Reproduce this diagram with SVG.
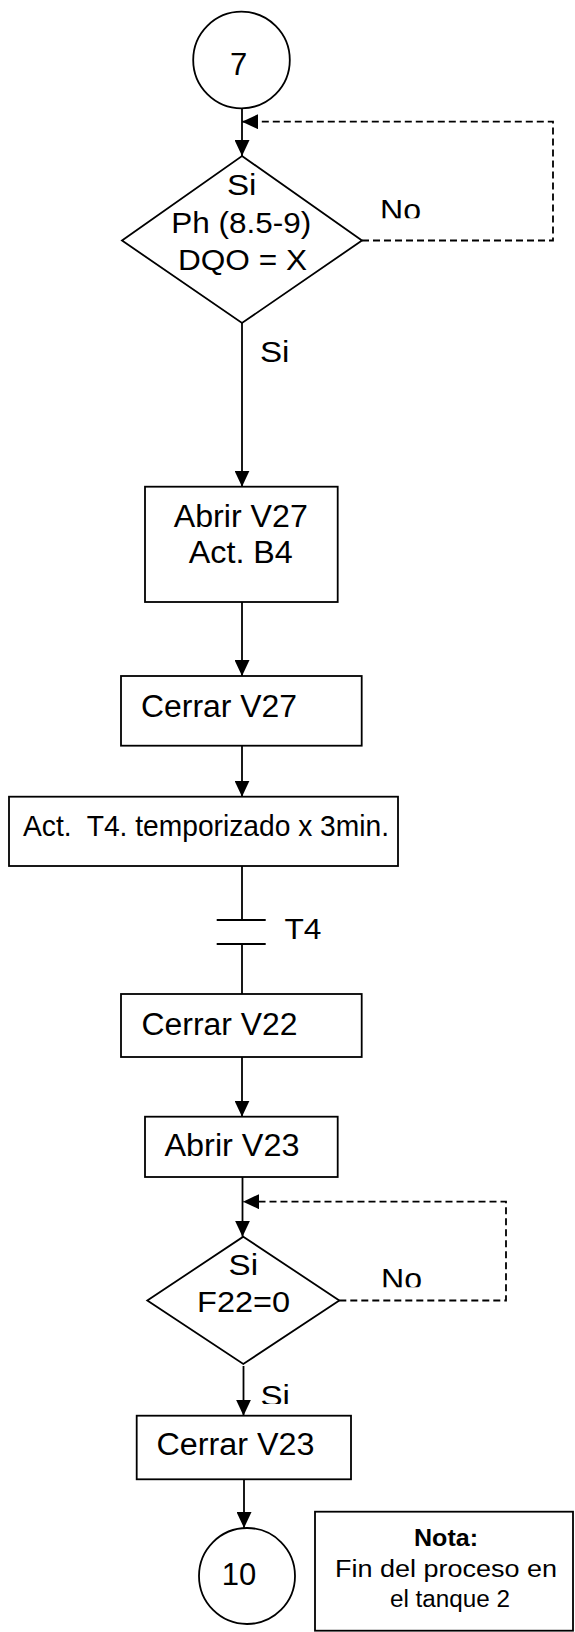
<svg xmlns="http://www.w3.org/2000/svg" width="575" height="1632" viewBox="0 0 575 1632">
<style>
.s{fill:#fff;stroke:#000;stroke-width:1.8}
.c{fill:none;stroke:#000;stroke-width:1.8}
.d{fill:none;stroke:#000;stroke-width:1.8;stroke-dasharray:7 4}
.t{font-family:"Liberation Sans",Arial,sans-serif;font-size:29px;fill:#000}
.b{font-size:31px}
.m{text-anchor:middle}
.n{font-family:"Liberation Sans",Arial,sans-serif;font-size:23.5px;fill:#000;text-anchor:middle}
</style>
<defs>
<marker id="ah" markerUnits="userSpaceOnUse" markerWidth="16" markerHeight="15" refX="16" refY="7.5" orient="auto">
<path d="M0,0 L16,7.5 L0,15 z" fill="#000"/>
</marker>
<clipPath id="cNo1"><rect x="370" y="180" width="70" height="38.3"/></clipPath>
<clipPath id="cNo2"><rect x="370" y="1250" width="70" height="37.3"/></clipPath>
<clipPath id="cSi2"><rect x="250" y="1370" width="60" height="34"/></clipPath>
</defs>

<g id="connectors">
<path class="c" d="M242,108.5 V156" marker-end="url(#ah)"/>
<path class="c" d="M242,323 V486.7" marker-end="url(#ah)"/>
<path class="c" d="M242,602 V676" marker-end="url(#ah)"/>
<path class="c" d="M242,745.7 V796.7" marker-end="url(#ah)"/>
<path class="c" d="M242,866 V920 M216.7,920 H265.7 M216.7,944 H265.7 M242,944 V994"/>
<path class="c" d="M242,1057 V1116.7" marker-end="url(#ah)"/>
<path class="c" d="M242.5,1177 V1236.7" marker-end="url(#ah)"/>
<path class="d" d="M362,240.5 H553 V121.7 H242" marker-end="url(#ah)"/>
<path class="d" d="M339.3,1300.5 H506 V1201.7 H243" marker-end="url(#ah)"/>
<path class="c" d="M243.5,1366 V1415.7" marker-end="url(#ah)"/>
<path class="c" d="M244,1479.3 V1528" marker-end="url(#ah)"/>
<text class="t" x="380" y="219.5" textLength="41" lengthAdjust="spacingAndGlyphs" clip-path="url(#cNo1)">No</text>
<text class="t" x="260" y="362" textLength="29.5" lengthAdjust="spacingAndGlyphs">Si</text>
<text class="t" x="284.5" y="939" textLength="37" lengthAdjust="spacingAndGlyphs">T4</text>
<text class="t" x="381" y="1288.5" textLength="41" lengthAdjust="spacingAndGlyphs" clip-path="url(#cNo2)">No</text>
<text class="t" x="260.5" y="1405.5" textLength="29.5" lengthAdjust="spacingAndGlyphs" clip-path="url(#cSi2)">Si</text>
</g>

<g id="start7">
<circle class="s" cx="241.5" cy="60" r="48.3"/>
<text class="t m" x="238.5" y="75" style="font-size:31px">7</text>
</g>

<g id="decision1">
<polygon class="s" points="242,156 362,240.5 242,323 122,240.5"/>
<text class="t m" x="241.7" y="195" textLength="29.5" lengthAdjust="spacingAndGlyphs">Si</text>
<text class="t m" x="241.3" y="232.7" textLength="140" lengthAdjust="spacingAndGlyphs">Ph (8.5-9)</text>
<text class="t m" x="242.5" y="270" textLength="129" lengthAdjust="spacingAndGlyphs">DQO = X</text>
</g>

<g id="abrirV27">
<rect class="s" x="145" y="486.7" width="192.7" height="115.3"/>
<text class="t b m" x="240.8" y="526.7" textLength="134" lengthAdjust="spacingAndGlyphs">Abrir V27</text>
<text class="t b m" x="240.8" y="563" textLength="104" lengthAdjust="spacingAndGlyphs">Act. B4</text>
</g>

<g id="cerrarV27">
<rect class="s" x="121" y="676" width="240.7" height="69.7"/>
<text class="t b" x="141" y="716.7" textLength="156" lengthAdjust="spacingAndGlyphs">Cerrar V27</text>
</g>

<g id="actT4">
<rect class="s" x="9" y="796.7" width="389" height="69.3"/>
<text class="t" x="23" y="836" style="font-size:30px" textLength="366" lengthAdjust="spacingAndGlyphs">Act.&#160; T4. temporizado x 3min.</text>
</g>

<g id="cerrarV22">
<rect class="s" x="121" y="994" width="240.7" height="63"/>
<text class="t b" x="141.5" y="1034.5" textLength="156" lengthAdjust="spacingAndGlyphs">Cerrar V22</text>
</g>

<g id="abrirV23">
<rect class="s" x="145" y="1116.7" width="192.7" height="60.3"/>
<text class="t b" x="164.5" y="1156" textLength="135" lengthAdjust="spacingAndGlyphs">Abrir V23</text>
</g>

<g id="decision2">
<polygon class="s" points="243.3,1236.7 339.3,1300.5 243.3,1364 147.3,1300.5"/>
<text class="t m" x="243.3" y="1275" textLength="29.5" lengthAdjust="spacingAndGlyphs">Si</text>
<text class="t m" x="243.6" y="1311.7" textLength="93" lengthAdjust="spacingAndGlyphs">F22=0</text>
</g>

<g id="cerrarV23">
<rect class="s" x="136.7" y="1415.7" width="214.3" height="63.6"/>
<text class="t b" x="156.5" y="1455" textLength="158" lengthAdjust="spacingAndGlyphs">Cerrar V23</text>
</g>

<g id="end10">
<circle class="s" cx="247" cy="1576" r="48"/>
<text class="t m" x="239" y="1585" style="font-size:31px">10</text>
</g>

<g id="nota">
<rect class="s" x="315" y="1511.7" width="258" height="119"/>
<text class="n" x="446" y="1546" style="font-weight:bold" textLength="64" lengthAdjust="spacingAndGlyphs">Nota:</text>
<text class="n" x="446" y="1576.5" textLength="222" lengthAdjust="spacingAndGlyphs">Fin del proceso en</text>
<text class="n" x="450" y="1606.5" textLength="120" lengthAdjust="spacingAndGlyphs">el tanque 2</text>
</g>
</svg>
